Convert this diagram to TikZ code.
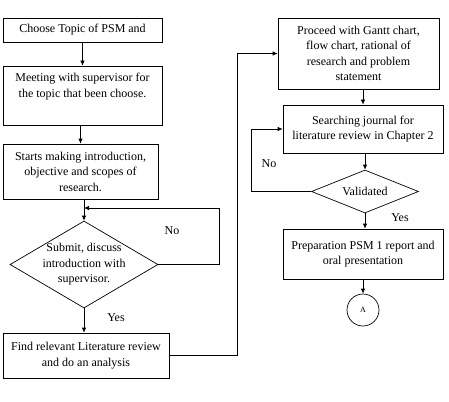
\documentclass[tikz,border=0pt]{standalone}
\usepackage{fontspec}
\setmainfont{Liberation Serif}
\usetikzlibrary{shapes,arrows,positioning,calc,arrows.meta}

\begin{document}
\begin{tikzpicture}[x=1pt, y=1pt, >={Latex[length=5pt,width=4.5pt]},
    font=\fontsize{12}{15.5}\selectfont,
    box/.style={draw, rectangle, align=center, inner sep=2pt, line width=0.7pt},
    decision/.style={draw, diamond, align=center, inner sep=-4pt, line width=0.7pt},
    link/.style={->, line width=0.7pt}]
    \useasboundingbox (0,0) rectangle (449,-401);

    % left column
    \node[box, minimum width=159pt, minimum height=24pt] (topic) at (82.5,-30) {Choose Topic of PSM and};
    \node[box, minimum width=159pt, minimum height=59pt] (meet) at (82.5,-95.5) {Meeting with supervisor for\\the topic that been choose.\\ \strut};
    \node[box, minimum width=155pt, minimum height=55pt] (intro) at (80.5,-171.5) {Starts making introduction,\\objective and scopes of\\research.};
    \node[decision, aspect=1.7, minimum width=148pt, minimum height=87pt] (check) at (84,-264.5) {Submit, discuss\\introduction with\\supervisor.};
    \node[box, minimum width=166pt, minimum height=45pt] (find) at (86,-355.5) {Find relevant Literature review\\and do an analysis};

    % right column
    \node[box, minimum width=161pt, minimum height=71pt] (gantt) at (358.5,-53.5) {Proceed with Gantt chart,\\flow chart, rational of\\research and problem\\statement};
    \node[box, minimum width=160pt, minimum height=48pt] (journal) at (363,-129) {Searching journal for\\literature review in Chapter 2};
    \node[decision, aspect=2.5, minimum width=107pt, minimum height=43pt] (valid) at (365,-191.5) {Validated};
    \node[box, minimum width=160pt, minimum height=50pt] (report) at (363,-254) {Preparation PSM 1 report and\\oral presentation};
    \node[draw, circle, minimum size=32pt, inner sep=0pt, line width=0.7pt, font=\fontsize{8}{8}\selectfont] (conA) at (363,-310) {A};

    % labels
    \node (no1) at (172,-231) {No};
    \node (yes1) at (116,-318) {Yes};
    \node (no2) at (269,-164) {No};
    \node (yes2) at (400,-218) {Yes};

    \coordinate (backin) at (84,-208);

    \draw[link] (topic) -- (meet);
    \draw[link] (meet.south -| intro.north) -- (intro.north);
    \draw[link] (intro.south -| check.north) -- (check.north);
    \draw[link] (check.east) -- ++(61,0) |- (backin);
    \draw[link] (check.south) -- (check.south |- find.north);
    \draw[link] (find.east) -- ++(68,0) |- (gantt.west);
    \draw[link] (gantt.south -| journal.north) -- (journal.north);
    \draw[link] (journal.south -| valid.north) -- (valid.north);
    \draw[link] (valid.west) -- ++(-60,0) |- (journal.west);
    \draw[link] (valid.south) -- (valid.south |- report.north);
    \draw[link] (report) -- (conA);
\end{tikzpicture}
\end{document}
